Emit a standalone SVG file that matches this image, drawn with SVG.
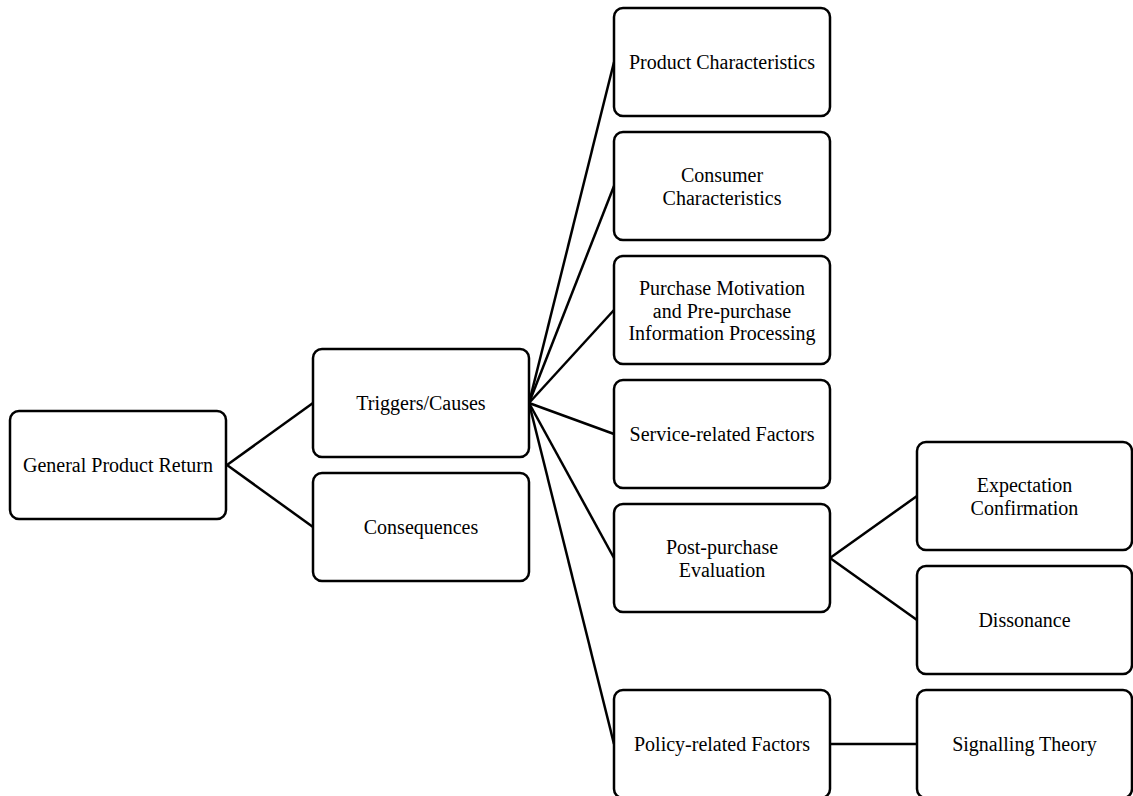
<svg xmlns="http://www.w3.org/2000/svg" width="1133" height="796" viewBox="0 0 1133 796">
<style>
.box{fill:#fff;stroke:#000;stroke-width:2.5}
.lbl{font-family:'Liberation Serif','Tinos','Times New Roman','DejaVu Serif',serif;font-size:20px;fill:#000;text-anchor:middle}
.edge{stroke:#000;stroke-width:2.5;fill:none}
</style>
<rect width="1133" height="796" fill="#fff"/>
<g id="connectors">
<line class="edge" x1="227" y1="465" x2="313" y2="403"/>
<line class="edge" x1="227" y1="465" x2="313" y2="527"/>
<line class="edge" x1="529" y1="403" x2="614" y2="62"/>
<line class="edge" x1="529" y1="403" x2="614" y2="186"/>
<line class="edge" x1="529" y1="403" x2="614" y2="310"/>
<line class="edge" x1="529" y1="403" x2="614" y2="434"/>
<line class="edge" x1="529" y1="403" x2="614" y2="558"/>
<line class="edge" x1="529" y1="403" x2="614" y2="744"/>
<line class="edge" x1="830" y1="558" x2="917" y2="496"/>
<line class="edge" x1="830" y1="558" x2="917" y2="620"/>
<line class="edge" x1="830" y1="744" x2="917" y2="744"/>
</g>
<g id="n-general"><rect class="box" x="10" y="411" width="216" height="108" rx="9"/><text class="lbl" font-family="Liberation Serif, serif" x="118" y="472">General Product Return</text></g>
<g id="n-triggers"><rect class="box" x="313" y="349" width="216" height="108" rx="9"/><text class="lbl" font-family="Liberation Serif, serif" x="421" y="410">Triggers/Causes</text></g>
<g id="n-consequences"><rect class="box" x="313" y="473" width="216" height="108" rx="9"/><text class="lbl" font-family="Liberation Serif, serif" x="421" y="534">Consequences</text></g>
<g id="n-product"><rect class="box" x="614" y="8" width="216" height="108" rx="9"/><text class="lbl" font-family="Liberation Serif, serif" x="722" y="69">Product Characteristics</text></g>
<g id="n-consumer"><rect class="box" x="614" y="132" width="216" height="108" rx="9"/><text class="lbl" font-family="Liberation Serif, serif" x="722" y="182">Consumer</text><text class="lbl" font-family="Liberation Serif, serif" x="722" y="204.5">Characteristics</text></g>
<g id="n-purchase"><rect class="box" x="614" y="256" width="216" height="108" rx="9"/><text class="lbl" font-family="Liberation Serif, serif" x="722" y="295">Purchase Motivation</text><text class="lbl" font-family="Liberation Serif, serif" x="722" y="317.5">and Pre-purchase</text><text class="lbl" font-family="Liberation Serif, serif" x="722" y="340">Information Processing</text></g>
<g id="n-service"><rect class="box" x="614" y="380" width="216" height="108" rx="9"/><text class="lbl" font-family="Liberation Serif, serif" x="722" y="441">Service-related Factors</text></g>
<g id="n-post"><rect class="box" x="614" y="504" width="216" height="108" rx="9"/><text class="lbl" font-family="Liberation Serif, serif" x="722" y="554">Post-purchase</text><text class="lbl" font-family="Liberation Serif, serif" x="722" y="576.5">Evaluation</text></g>
<g id="n-policy"><rect class="box" x="614" y="690" width="216" height="108" rx="9"/><text class="lbl" font-family="Liberation Serif, serif" x="722" y="751">Policy-related Factors</text></g>
<g id="n-expectation"><rect class="box" x="917" y="442" width="215" height="108" rx="9"/><text class="lbl" font-family="Liberation Serif, serif" x="1024.5" y="492">Expectation</text><text class="lbl" font-family="Liberation Serif, serif" x="1024.5" y="514.5">Confirmation</text></g>
<g id="n-dissonance"><rect class="box" x="917" y="566" width="215" height="108" rx="9"/><text class="lbl" font-family="Liberation Serif, serif" x="1024.5" y="627">Dissonance</text></g>
<g id="n-signalling"><rect class="box" x="917" y="690" width="215" height="108" rx="9"/><text class="lbl" font-family="Liberation Serif, serif" x="1024.5" y="751">Signalling Theory</text></g>
</svg>
